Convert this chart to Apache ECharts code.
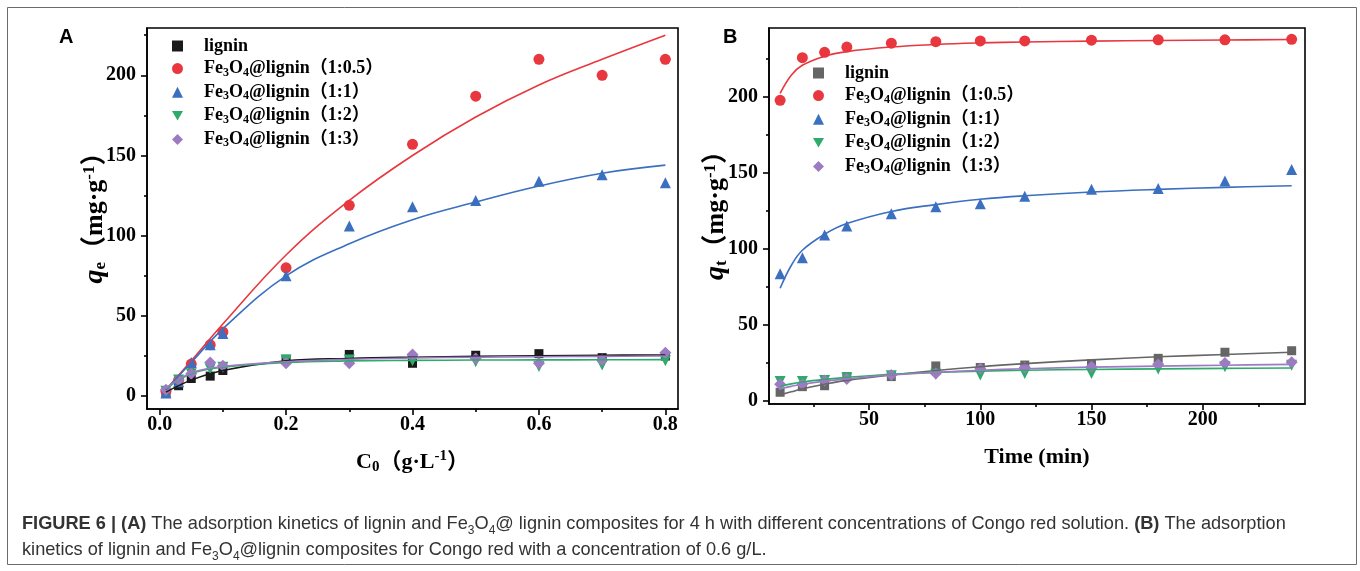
<!DOCTYPE html>
<html>
<head>
<meta charset="utf-8">
<script src="https://cdn.jsdelivr.net/npm/echarts@6/dist/echarts.min.js"></script>
<style>
html, body { margin: 0; padding: 0; background: #fff; }
#chart { width: 1360px; height: 571px; }
</style>
</head>
<body>
<div id="chart"></div>
<script>
// ---- panel A: q_e vs initial concentration C0 (g/L)
const concA = [0.01, 0.03, 0.05, 0.08, 0.1, 0.2, 0.3, 0.4, 0.5, 0.6, 0.7, 0.8];
const ligninA = [2, 6.5, 11, 12.5, 16, 23, 26, 20.5, 25.5, 26.5, 24, 25];
const ratio05A = [3, 10, 20, 32, 40, 80, 119, 157, 187, 210, 200, 210];
const ratio1A = [2, 9, 21, 32, 39, 75, 106, 118, 122, 134, 138, 133];
const ratio2A = [3, 10, 14, 17, 18, 22.5, 22.5, 22, 21.5, 18.5, 19.5, 22];
const ratio3A = [4, 10, 14, 21, 19, 20.5, 20.5, 26, 23.5, 20.5, 22.5, 27];

const fitConcA = [0.01, 0.05, 0.1, 0.2, 0.3, 0.4, 0.5, 0.6, 0.7, 0.8];
const fitLigninA = [2.5, 10, 16, 22, 23.5, 24.3, 24.8, 25.2, 25.5, 25.7];
const fitRatio05A = [4, 22, 45, 88, 122, 150, 174, 194, 210, 225];
const fitRatio1A = [4, 21, 42, 75, 95, 110, 121, 131, 139, 144];
const fitRatio2A = [4.5, 14, 18, 21, 22, 22.3, 22.5, 22.6, 22.7, 22.8];
const fitRatio3A = [5, 14.5, 18.5, 21.5, 23, 23.8, 24.3, 24.6, 24.8, 25];

// ---- panel B: q_t vs time (min)
const timeB = [10, 20, 30, 40, 60, 80, 100, 120, 150, 180, 210, 240];
const ligninB = [5.7, 9.4, 10, 16, 16, 23, 22, 23.6, 24.5, 28, 32, 33];
const ratio05B = [197.5, 225.5, 229, 232.5, 235, 236, 236.5, 236.5, 237, 237.2, 237.2, 237.6];
const ratio1B = [83.5, 94, 109, 115, 123, 127.5, 129.5, 134.5, 139, 139.5, 144.5, 152];
const ratio2B = [12.7, 12.7, 13.5, 15, 16.5, 17.5, 17, 18, 18, 21, 22.5, 23.5];
const ratio3B = [11, 11, 13.5, 14.5, 17, 18, 21.4, 22, 22.5, 24, 25, 25.5];

const fitTimeB = [10, 15, 20, 30, 40, 60, 80, 100, 120, 150, 180, 210, 240];
const fitLigninB = [4, 6, 8, 11, 13.5, 17, 20, 22.5, 24.5, 27, 29, 30.5, 32];
const fitRatio05B = [202, 214, 220.5, 226.5, 229.5, 232.5, 234.2, 235.2, 235.8, 236.4, 236.8, 237.1, 237.4];
const fitRatio1B = [74, 89, 99, 109.5, 116.5, 124.5, 129, 132.5, 134.8, 137.3, 139, 140.3, 141.4];
const fitRatio2B = [9.5, 11.2, 12.5, 14.2, 15.5, 17.5, 18.8, 19.6, 20.2, 20.7, 21.1, 21.4, 21.6];
const fitRatio3B = [8, 9.6, 11, 13, 14.5, 17, 18.8, 20.2, 21.2, 22.2, 22.9, 23.5, 24];

const seriesNames = ['lignin', 'Fe3O4@lignin（1:0.5）', 'Fe3O4@lignin（1:1）', 'Fe3O4@lignin（1:2）', 'Fe3O4@lignin（1:3）'];

// tick labels
const ticksXA = [0, 0.2, 0.4, 0.6, 0.8];
const minorXA = [0.1, 0.3, 0.5, 0.7];
const ticksYA = [0, 50, 100, 150, 200];
const minorYA = [25, 75, 125, 175, 225];
const ticksXB = [50, 100, 150, 200];
const minorXB = [25, 75, 125, 175, 225];
const ticksYB = [0, 50, 100, 150, 200];
const minorYB = [25, 75, 125, 175, 225];

const SERIF = "'Liberation Serif', 'Times New Roman', 'Noto Sans CJK SC', serif";
const SANS = "'Liberation Sans', Arial, Helvetica, sans-serif";

const colorsA = ['#1a1a1a', '#e8373e', '#3b6fc0', '#2eaa6a', '#9d7bc2'];
const colorsB = ['#666666', '#e8373e', '#3b6fc0', '#2eaa6a', '#9d7bc2'];
const symbols = ['rect', 'circle', 'triangle', 'triangle', 'diamond'];
const rotations = [0, 0, 0, 180, 0];
const sizes = [9, 11, 11, 11, 12];
const legendIcons = ['rect', 'circle', 'triangle', 'path://M0,0L10,0L5,8.66Z', 'diamond'];

function pairs(xs, ys) {
	return xs.map((x, i) => [x, ys[i]]);
}

function richName(name) {
	const clean = name.slice(2);
	if (clean.indexOf('Fe3O4') === 0) {
		return '{t|Fe}{s|3}{t|O}{s|4}{t|' + clean.slice(5) + '}';
	}
	return '{t|' + clean + '}';
}

const pointsA = [ligninA, ratio05A, ratio1A, ratio2A, ratio3A];
const fitsA = [fitLigninA, fitRatio05A, fitRatio1A, fitRatio2A, fitRatio3A];
const pointsB = [ligninB, ratio05B, ratio1B, ratio2B, ratio3B];
const fitsB = [fitLigninB, fitRatio05B, fitRatio1B, fitRatio2B, fitRatio3B];

const series = [];
function addPanel(prefix, xs, points, fitXs, fits, colors, axisIdx) {
	points.forEach((ys, i) => {
		series.push({
			name: prefix + seriesNames[i],
			type: 'scatter',
			xAxisIndex: axisIdx,
			yAxisIndex: axisIdx,
			symbol: symbols[i],
			symbolRotate: rotations[i],
			symbolSize: sizes[i],
			itemStyle: { color: colors[i], opacity: 1 },
			data: pairs(xs, ys),
			z: 2,
		});
	});
	fits.forEach((ys, i) => {
		series.push({
			name: prefix + 'fit' + i,
			type: 'line',
			xAxisIndex: axisIdx,
			yAxisIndex: axisIdx,
			smooth: 0.4,
			showSymbol: false,
			lineStyle: { color: colors[i], width: 1.6 },
			itemStyle: { color: colors[i] },
			data: pairs(fitXs, ys),
			z: 3,
		});
	});
}
addPanel('A:', concA, pointsA, fitConcA, fitsA, colorsA, 0);
addPanel('B:', timeB, pointsB, fitTimeB, fitsB, colorsB, 2);

const legendRich = {
	t: { fontFamily: SERIF, fontWeight: 'bold', fontSize: 18, lineHeight: 20, color: '#000' },
	s: { fontFamily: SERIF, fontWeight: 'bold', fontSize: 12, lineHeight: 8, verticalAlign: 'bottom', color: '#000' },
};

function makeLegend(prefix, left, top, colors) {
	return {
		orient: 'vertical',
		left: left,
		top: top,
		itemWidth: 11,
		itemHeight: 11,
		itemGap: 4.6,
		selectedMode: false,
		data: seriesNames.map((n, i) => ({
			name: prefix + n,
			icon: legendIcons[i],
			itemStyle: { color: colors[i] },
		})),
		formatter: richName,
		textStyle: { padding: [0, 0, 0, 16], rich: legendRich },
	};
}

const nameRich = {
	t: { fontFamily: SERIF, fontWeight: 'bold', fontSize: 22, lineHeight: 26, color: '#000' },
	i: { fontFamily: SERIF, fontWeight: 'bold', fontStyle: 'italic', fontSize: 24, lineHeight: 26, color: '#000' },
	s: { fontFamily: SERIF, fontWeight: 'bold', fontSize: 15, lineHeight: 11, verticalAlign: 'bottom', color: '#000' },
	p: { fontFamily: SERIF, fontWeight: 'bold', fontSize: 15, lineHeight: 11, verticalAlign: 'top', color: '#000' },
};
const yNameRich = {
	t: { fontFamily: SERIF, fontWeight: 'bold', fontSize: 26, lineHeight: 28, color: '#000' },
	i: { fontFamily: SERIF, fontWeight: 'bold', fontStyle: 'italic', fontSize: 28, lineHeight: 28, color: '#000' },
	s: { fontFamily: SERIF, fontWeight: 'bold', fontSize: 17, lineHeight: 12, verticalAlign: 'bottom', color: '#000' },
	p: { fontFamily: SERIF, fontWeight: 'bold', fontSize: 17, lineHeight: 12, verticalAlign: 'top', color: '#000' },
};

const lineStyle = { color: '#000', width: 1.6 };
const labelStyle = { fontFamily: SERIF, fontWeight: 'bold', fontSize: 20, color: '#000' };

function mainAxis(grid, min, max, ticks, fmt, margin, extra) {
	return Object.assign({
		type: 'value',
		gridIndex: grid,
		min: min,
		max: max,
		splitLine: { show: false },
		axisLine: { show: true, onZero: false, lineStyle: lineStyle },
		axisTick: { show: true, length: 6, customValues: ticks, lineStyle: lineStyle },
		axisLabel: Object.assign({ customValues: ticks, formatter: fmt, margin: margin }, labelStyle),
		nameLocation: 'middle',
		nameMoveOverlap: false,
		nameTextStyle: { rich: nameRich },
	}, extra);
}

function minorAxis(grid, min, max, ticks, position) {
	return {
		type: 'value',
		gridIndex: grid,
		position: position,
		min: min,
		max: max,
		splitLine: { show: false },
		axisLine: { show: false, onZero: false },
		axisLabel: { show: false },
		axisTick: { show: true, length: 3, customValues: ticks, lineStyle: lineStyle },
	};
}

const option = {
	animation: false,
	backgroundColor: '#fff',
	grid: [
		{ left: 147, top: 28, width: 531, height: 381, show: true, borderColor: '#000', borderWidth: 1.6 },
		{ left: 769, top: 28, width: 536, height: 376, show: true, borderColor: '#000', borderWidth: 1.6 },
	],
	xAxis: [
		mainAxis(0, -0.02, 0.82, ticksXA, (v) => v.toFixed(1), 6, {
			position: 'bottom', name: '{t|C}{s|0}{t|（g·L}{p|-1}{t|）}', nameGap: 40,
		}),
		minorAxis(0, -0.02, 0.82, minorXA, 'bottom'),
		mainAxis(1, 5, 246, ticksXB, (v) => String(v), 6, {
			position: 'bottom', name: '{t|Time (min)}', nameGap: 40,
		}),
		minorAxis(1, 5, 246, minorXB, 'bottom'),
	],
	yAxis: [
		mainAxis(0, -8, 229.5, ticksYA, (v) => String(v), 11, {
			position: 'left', name: '{i|q}{s|e}{t|（mg·g}{p|-1}{t|）}', nameGap: 38, nameRotate: 90,
			nameTextStyle: { rich: yNameRich, padding: [0, 0, 0, 14] },
		}),
		minorAxis(0, -8, 229.5, minorYA, 'left'),
		mainAxis(1, -2, 245, ticksYB, (v) => String(v), 11, {
			position: 'left', name: '{i|q}{s|t}{t|（mg·g}{p|-1}{t|）}', nameGap: 39, nameRotate: 90,
			nameTextStyle: { rich: yNameRich, padding: [0, 0, 0, 14] },
		}),
		minorAxis(1, -2, 245, minorYB, 'left'),
	],
	legend: [
		makeLegend('A:', 167, 32, colorsA),
		makeLegend('B:', 808, 59, colorsB),
	],
	graphic: [
		{
			type: 'rect',
			shape: { x: 7.5, y: 7.5, width: 1349, height: 557 },
			style: { fill: 'none', stroke: '#6b6b6b', lineWidth: 1 },
			silent: true,
		},
		{
			type: 'text', x: 59, y: 27,
			style: { text: 'A', font: 'bold 20px ' + SANS, fill: '#000' },
		},
		{
			type: 'text', x: 723, y: 27,
			style: { text: 'B', font: 'bold 20px ' + SANS, fill: '#000' },
		},
		{
			type: 'text', x: 22, y: 511,
			style: {
				text:
					'{b|FIGURE 6 | (A)}{n| The adsorption kinetics of lignin and Fe}{s|3}{n|O}{s|4}' +
					'{n|@ lignin composites for 4 h with different concentrations of Congo red solution. }' +
					'{b|(B)}{n| The adsorption}\n' +
					'{n|kinetics of lignin and Fe}{s|3}{n|O}{s|4}{n|@lignin composites for Congo red with a concentration of 0.6 g/L.}',
				rich: {
					b: { font: 'bold 18.2px ' + SANS, fill: '#333', lineHeight: 26 },
					n: { font: '18.2px ' + SANS, fill: '#333', lineHeight: 26 },
					s: { font: '12px ' + SANS, fill: '#333', lineHeight: 16, verticalAlign: 'bottom' },
				},
			},
		},
	],
	series: series,
};

const chart = echarts.init(document.getElementById('chart'), null, { renderer: 'canvas' });
chart.setOption(option);
</script>
</body>
</html>
